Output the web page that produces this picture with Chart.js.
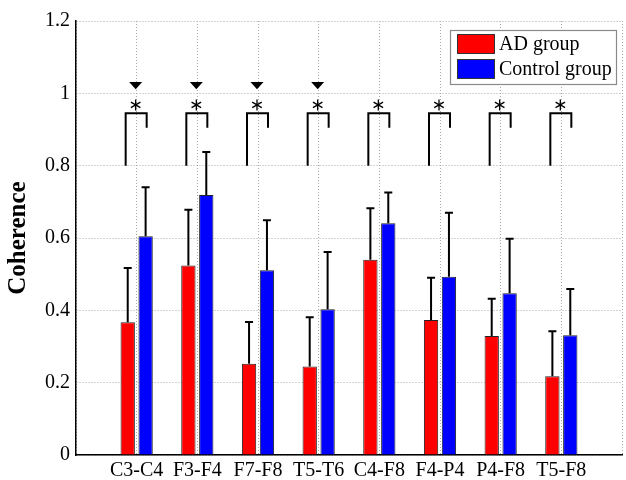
<!DOCTYPE html>
<html>
<head>
<meta charset="utf-8">
<script src="https://cdn.jsdelivr.net/npm/chart.js@4/dist/chart.umd.min.js"></script>
<style>
  html, body { margin: 0; padding: 0; background: #fff; }
  #chart { display: block; }
</style>
</head>
<body>
<canvas id="chart" width="626" height="480"></canvas>
<script>
// channel pairs on the x axis
const categories = ['C3-C4', 'F3-F4', 'F7-F8', 'T5-T6', 'C4-F8', 'F4-P4', 'P4-F8', 'T5-F8'];

// mean coherence and upper error (SD) per group
const adMean = [0.367, 0.524, 0.252, 0.245, 0.540, 0.373, 0.329, 0.218];
const adErr = [0.150, 0.154, 0.116, 0.136, 0.142, 0.117, 0.103, 0.124];
const controlMean = [0.605, 0.719, 0.511, 0.403, 0.641, 0.493, 0.447, 0.331];
const controlErr = [0.135, 0.119, 0.138, 0.158, 0.085, 0.177, 0.151, 0.128];

// significance marks: asterisk for every pair, triangle only for some
const starMarks = [true, true, true, true, true, true, true, true];
const triangleMarks = [true, true, true, true, false, false, false, false];

const yTicks = [0, 0.2, 0.4, 0.6, 0.8, 1, 1.2];
const yTickLabels = ['0', '0.2', '0.4', '0.6', '0.8', '1', '1.2'];

const SERIF = "'Liberation Serif', 'Times New Roman', serif";

// pad one empty slot on each side so the axis runs 0..9 like the original
const labels = [''].concat(categories, ['']);
const pad = arr => [null].concat(arr, [null]);

const annotations = {
  id: 'annotations',
  afterDatasetsDraw(chart) {
    const ctx = chart.ctx;
    const x = chart.scales.x;
    const y = chart.scales.y;
    const errs = [adErr, controlErr];

    ctx.save();
    ctx.strokeStyle = '#000';
    ctx.fillStyle = '#000';
    ctx.lineWidth = 2;

    // error bars (upper only, with cap)
    errs.forEach((err, di) => {
      const meta = chart.getDatasetMeta(di);
      const means = di === 0 ? adMean : controlMean;
      err.forEach((e, i) => {
        const bar = meta.data[i + 1];
        const top = y.getPixelForValue(means[i] + e);
        ctx.beginPath();
        ctx.moveTo(bar.x, bar.y);
        ctx.lineTo(bar.x, top);
        ctx.moveTo(bar.x - 4, top);
        ctx.lineTo(bar.x + 4, top);
        ctx.stroke();
      });
    });

    // brackets, asterisks and triangles
    categories.forEach((c, i) => {
      const cx = x.getPixelForValue(i + 1);
      const left = cx - 11;
      const right = cx + 10;
      if (starMarks[i]) {
        ctx.lineWidth = 2;
        ctx.beginPath();
        ctx.moveTo(left, y.getPixelForValue(0.8));
        ctx.lineTo(left, y.getPixelForValue(0.945));
        ctx.lineTo(right, y.getPixelForValue(0.945));
        ctx.lineTo(right, y.getPixelForValue(0.905));
        ctx.stroke();

        const sy = y.getPixelForValue(0.968);
        const sx = cx - 1;
        ctx.lineWidth = 1.3;
        ctx.beginPath();
        for (let k = 0; k < 3; k++) {
          const a = Math.PI / 2 + k * Math.PI / 3;
          ctx.moveTo(sx - Math.cos(a) * 5.5, sy - Math.sin(a) * 5.5);
          ctx.lineTo(sx + Math.cos(a) * 5.5, sy + Math.sin(a) * 5.5);
        }
        ctx.stroke();
      }
      if (triangleMarks[i]) {
        const ty = y.getPixelForValue(1.031);
        const by = y.getPixelForValue(1.011);
        const tx = cx - 1;
        ctx.beginPath();
        ctx.moveTo(tx - 6.5, ty);
        ctx.lineTo(tx + 6.5, ty);
        ctx.lineTo(tx, by);
        ctx.closePath();
        ctx.fill();
      }
    });

    // legend box in the top right corner
    const lx = 450.5, ly = 30.5, lw = 166, lh = 54;
    ctx.fillStyle = '#fff';
    ctx.fillRect(lx, ly, lw, lh);
    ctx.strokeStyle = '#8a8a8a';
    ctx.lineWidth = 1.2;
    ctx.strokeRect(lx, ly, lw, lh);
    const items = chart.data.datasets;
    items.forEach((ds, k) => {
      const top = 34.5 + k * 25;
      ctx.fillStyle = ds.backgroundColor;
      ctx.fillRect(457.5, top, 37, 19);
      ctx.strokeStyle = '#333';
      ctx.lineWidth = 1;
      ctx.strokeRect(457.5, top, 37, 19);
      ctx.fillStyle = '#000';
      ctx.font = '20px ' + SERIF;
      ctx.textBaseline = 'middle';
      ctx.textAlign = 'left';
      ctx.fillText(ds.label, 499, top + 10);
    });

    ctx.restore();
  }
};

new Chart(document.getElementById('chart'), {
  type: 'bar',
  data: {
    labels: labels,
    datasets: [
      {
        label: 'AD group',
        data: pad(adMean),
        backgroundColor: '#ff0000',
        borderColor: '#222',
        borderWidth: 1,
        categoryPercentage: 0.59,
        barPercentage: 0.8
      },
      {
        label: 'Control group',
        data: pad(controlMean),
        backgroundColor: '#0000ff',
        borderColor: '#222',
        borderWidth: 1,
        categoryPercentage: 0.59,
        barPercentage: 0.8
      }
    ]
  },
  options: {
    responsive: false,
    animation: false,
    layout: { padding: { top: 21, right: 0, bottom: 0, left: 0 } },
    plugins: {
      legend: { display: false },
      tooltip: { enabled: false }
    },
    scales: {
      x: {
        type: 'category',
        offset: false,
        grid: { offset: false, color: '#a8a8a8', drawTicks: false },
        border: { color: '#000', width: 1.5, dash: [1, 2] },
        ticks: {
          color: '#000',
          font: { family: SERIF, size: 20 },
          padding: 4,
          autoSkip: false,
          maxRotation: 0
        },
        afterFit(scale) { scale.height = 25; }
      },
      y: {
        min: 0,
        max: 1.2,
        afterBuildTicks(scale) { scale.ticks = yTicks.map(v => ({ value: v })); },
        grid: { color: '#a8a8a8', drawTicks: false },
        border: { color: '#000', width: 1.5, dash: [1, 2] },
        ticks: {
          color: '#000',
          font: { family: SERIF, size: 20 },
          padding: 6,
          callback: (v, i) => yTickLabels[i]
        },
        title: {
          display: true,
          text: 'Coherence',
          color: '#000',
          font: { family: SERIF, size: 25, weight: 'bold' },
          padding: { top: 4, bottom: 0 }
        },
        afterFit(scale) { scale.width = 76; }
      }
    }
  },
  plugins: [annotations]
});
</script>
</body>
</html>
